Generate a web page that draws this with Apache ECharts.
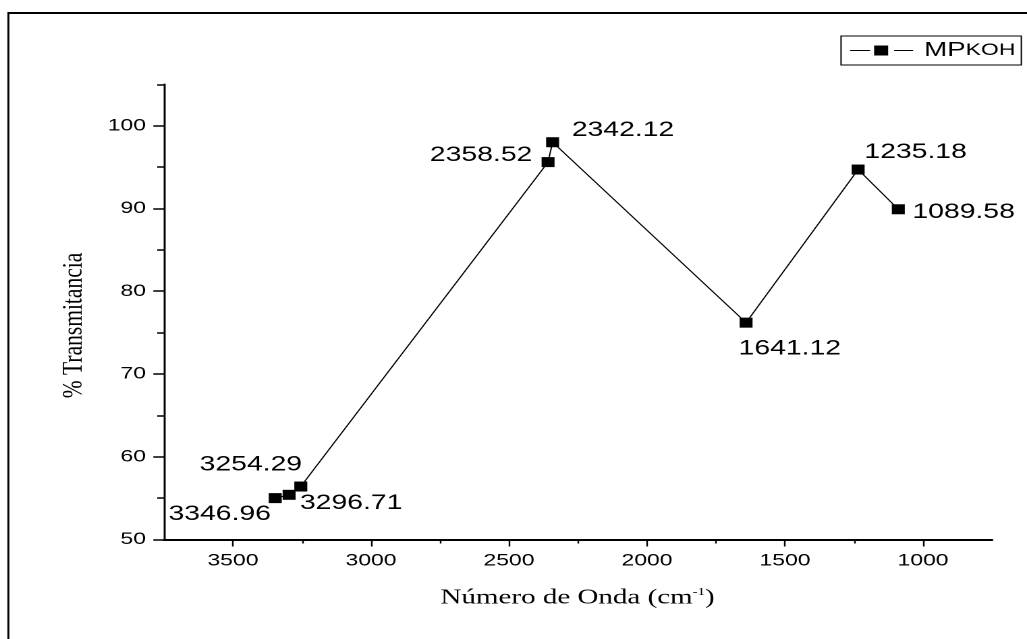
<!DOCTYPE html>
<html>
<head>
<meta charset="utf-8">
<script src="https://cdn.jsdelivr.net/npm/echarts@6/dist/echarts.min.js"></script>
<style>
  html, body { margin: 0; padding: 0; background: #fff; }
  #wrap { width: 1027px; height: 639px; overflow: hidden; position: relative; background: #fff; }
  /* the plot is laid out on a narrower canvas and widened horizontally */
  #chart { width: 761px; height: 639px; transform: scaleX(1.349540); transform-origin: 0 0; }
</style>
</head>
<body>
<div id="wrap"><div id="chart"></div></div>
<script>
// FTIR spectrum points: wavenumber (cm-1) and % transmittance
const wavenumbers = [3346.96, 3296.71, 3254.29, 2358.52, 2342.12, 1641.12, 1235.18, 1089.58];
const transmittance = [55.0, 55.4, 56.4, 95.6, 98.0, 76.2, 94.7, 89.9];

// axis ticks
const xMajorTicks = [1000, 1500, 2000, 2500, 3000, 3500];
const xMinorTicks = [1250, 1750, 2250, 2750, 3250];
const yMajorTicks = [50, 60, 70, 80, 90, 100];
const yMinorTicks = [55, 65, 75, 85, 95, 105];

const seriesName = 'MPKOH';

// where each point's wavenumber label sits, relative to its marker
const labelOffsets = [
  [-41.1, 16.2], [46.0, 8.3], [-37.0, -21.7], [-49.6, -6.8],
  [52.2, -12.0], [32.4, 25.9], [42.6, -17.1], [48.4, 2.8]
];

const SANS = 'Liberation Sans, Arial, sans-serif';
const SERIF = 'Liberation Serif, Times New Roman, serif';

const chart = echarts.init(document.getElementById('chart'), null, { renderer: 'canvas', devicePixelRatio: 2 });

const xBase = { type: 'value', min: 750, max: 3750, interval: 250, inverse: true, gridIndex: 0, position: 'bottom', splitLine: { show: false } };
const yBase = { type: 'value', min: 50, max: 105, interval: 5, gridIndex: 0, position: 'left', splitLine: { show: false } };
const plainNumber = v => String(v);

chart.setOption({
  animation: false,
  backgroundColor: '#fff',
  grid: { left: 121.5, right: 25.9, top: 84.3, bottom: 99.5, containLabel: false, outerBoundsMode: 'none' },
  xAxis: [
    Object.assign({}, xBase, {
      axisLine: { show: true, lineStyle: { color: '#000', width: 2 } },
      axisTick: { show: true, length: 7, inside: false, lineStyle: { color: '#000', width: 1.2 }, customValues: xMajorTicks },
      axisLabel: { show: true, color: '#000', fontFamily: SANS, fontSize: 17, margin: 13, customValues: xMajorTicks, formatter: plainNumber }
    }),
    Object.assign({}, xBase, {
      axisLine: { show: false },
      axisTick: { show: true, length: 4, inside: false, lineStyle: { color: '#000', width: 1.2 }, customValues: xMinorTicks },
      axisLabel: { show: false }
    })
  ],
  yAxis: [
    Object.assign({}, yBase, {
      axisLine: { show: true, lineStyle: { color: '#000', width: 1.5 } },
      axisTick: { show: true, length: 7.9, inside: false, lineStyle: { color: '#000', width: 1.5 }, customValues: yMajorTicks },
      axisLabel: { show: true, color: '#000', fontFamily: SANS, fontSize: 17, margin: 13.3, customValues: yMajorTicks, formatter: plainNumber }
    }),
    Object.assign({}, yBase, {
      axisLine: { show: false },
      axisTick: { show: true, length: 5, inside: false, lineStyle: { color: '#000', width: 1.5 }, customValues: yMinorTicks },
      axisLabel: { show: false }
    })
  ],
  legend: {
    left: 623.2, top: 36,
    padding: [4, 4.4, 4, 6.7],
    borderColor: '#000', borderWidth: 1, borderRadius: 0,
    itemWidth: 46.7, itemHeight: 10,
    icon: 'path://M0 4.5H14.8V5.5H0Z M17.8 0H28.2V10H17.8Z M32.6 4.5H46.7V5.5H32.6Z',
    itemStyle: { color: '#000', borderWidth: 0 },
    data: [seriesName],
    formatter: () => '{a|MP}{b|KOH}',
    textStyle: {
      color: '#000',
      rich: {
        a: { fontFamily: SANS, fontSize: 20.5, lineHeight: 19, color: '#000', padding: [0, 0, 0, 3.2] },
        b: { fontFamily: SANS, fontSize: 17, lineHeight: 19, color: '#000' }
      }
    }
  },
  graphic: [
    // page frame
    { type: 'line', shape: { x1: 6.2, y1: 13, x2: 800, y2: 13 }, style: { stroke: '#000', lineWidth: 2 }, silent: true },
    { type: 'line', shape: { x1: 6.2, y1: 12, x2: 6.2, y2: 700 }, style: { stroke: '#000', lineWidth: 1.5 }, silent: true },
    // axis titles
    {
      type: 'text', x: 54.8, y: 325.5, rotation: Math.PI / 2,
      style: { text: '% Transmitancia', fontFamily: SERIF, fontSize: 21.5, fill: '#000', align: 'center', verticalAlign: 'middle' },
      silent: true
    },
    {
      type: 'text', x: 428.0, y: 598,
      style: {
        text: '{t|Número de Onda (cm}{s|-1}{t|)}',
        align: 'center', verticalAlign: 'middle',
        rich: {
          t: { fontFamily: SERIF, fontSize: 21.5, fill: '#000' },
          s: { fontFamily: SERIF, fontSize: 11, fill: '#000', padding: [0, 0, 12, 0] }
        }
      },
      silent: true
    }
  ],
  series: [{
    name: seriesName,
    type: 'line',
    xAxisIndex: 0, yAxisIndex: 0,
    symbol: 'rect',
    symbolSize: [9.6, 10],
    showAllSymbol: true,
    lineStyle: { color: '#000', width: 1 },
    itemStyle: { color: '#000' },
    label: {
      show: true, position: 'inside', color: '#000', fontFamily: SANS, fontSize: 21,
      formatter: p => p.value[0].toFixed(2)
    },
    data: wavenumbers.map((w, i) => ({ value: [w, transmittance[i]], label: { offset: labelOffsets[i] } }))
  }]
});
</script>
</body>
</html>
